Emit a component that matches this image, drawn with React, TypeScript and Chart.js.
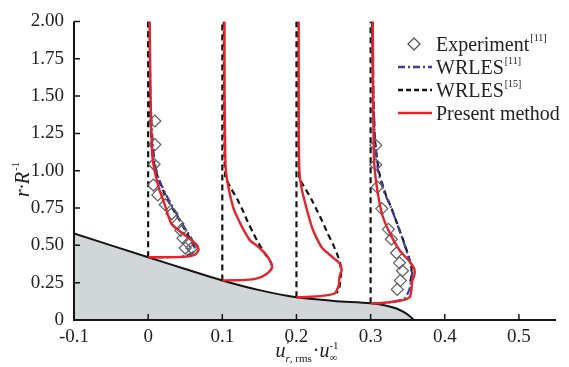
import React, { useEffect, useRef } from "react";
import { Chart, registerables } from "chart.js";

Chart.register(...registerables);

// Axis ticks
const xTicks = [-0.1, 0, 0.1, 0.2, 0.3, 0.4, 0.5];
const yTicks = [0, 0.25, 0.5, 0.75, 1.0, 1.25, 1.5, 1.75, 2.0];

// Measuring stations (x offset of each profile) and wall radius at each station
const stations = [0, 0.1, 0.2, 0.3];
const wallR = [0.42, 0.265, 0.152, 0.112];

// Body contour (x, r/R)
const bodyX = [-0.1, 0, 0.05, 0.1, 0.15, 0.2, 0.25, 0.3, 0.32, 0.335, 0.345, 0.353, 0.358];
const bodyY = [0.58, 0.42, 0.342, 0.265, 0.2, 0.152, 0.128, 0.112, 0.097, 0.077, 0.052, 0.025, 0];

// Present method profiles: [u'/U offset from station, r/R]
const present0 = [[0, 0.42], [0.02, 0.42], [0.04, 0.421], [0.055, 0.427], [0.064, 0.44], [0.068, 0.47], [0.066, 0.5], [0.057, 0.54], [0.045, 0.585], [0.032, 0.64], [0.027, 0.7], [0.022, 0.78], [0.016, 0.86], [0.01, 0.97], [0.006, 1.08], [0.004, 1.3], [0.003, 1.6], [0.002, 2.0]];
const present1 = [[0, 0.265], [0.02, 0.266], [0.04, 0.272], [0.051, 0.285], [0.06, 0.31], [0.066, 0.34], [0.067, 0.365], [0.063, 0.41], [0.056, 0.455], [0.046, 0.5], [0.037, 0.535], [0.028, 0.61], [0.021, 0.68], [0.015, 0.75], [0.009, 0.87], [0.005, 0.99], [0.004, 1.1], [0.003, 1.5], [0.003, 2.0]];
const present2 = [[0, 0.152], [0.02, 0.156], [0.04, 0.165], [0.052, 0.18], [0.057, 0.23], [0.058, 0.29], [0.061, 0.335], [0.058, 0.38], [0.05, 0.415], [0.035, 0.48], [0.027, 0.55], [0.021, 0.62], [0.014, 0.74], [0.007, 0.88], [0.004, 0.99], [0.003, 1.3], [0.003, 2.0]];
const present3 = [[0, 0.112], [0.015, 0.114], [0.03, 0.122], [0.045, 0.135], [0.053, 0.155], [0.055, 0.2], [0.056, 0.26], [0.059, 0.3], [0.059, 0.34], [0.052, 0.395], [0.04, 0.46], [0.027, 0.57], [0.016, 0.7], [0.009, 0.87], [0.005, 1.04], [0.004, 1.21], [0.003, 1.6], [0.003, 2.0]];

// WRLES [11] profiles (stations 0 and 0.3)
const wrles11_0 = [[0.002, 2.0], [0.003, 1.5], [0.006, 1.2], [0.009, 1.05], [0.014, 0.95], [0.024, 0.84], [0.034, 0.75], [0.044, 0.66], [0.053, 0.59], [0.06, 0.53], [0.063, 0.49], [0.06, 0.45], [0.045, 0.425], [0, 0.42]];
const wrles11_3 = [[0.003, 2.0], [0.004, 1.5], [0.006, 1.2], [0.01, 1.0], [0.018, 0.86], [0.027, 0.76], [0.036, 0.64], [0.044, 0.53], [0.05, 0.44], [0.055, 0.36], [0.056, 0.32], [0.054, 0.25], [0.052, 0.2], [0.045, 0.14], [0.02, 0.115], [0, 0.112]];

// WRLES [15] profiles
const wrles15_0 = [[0, 2.0], [0.002, 1.5], [0.005, 1.15], [0.01, 1.0], [0.02, 0.87], [0.03, 0.77], [0.041, 0.68], [0.05, 0.6], [0.058, 0.53], [0.062, 0.49]];
const wrles15_1 = [[0.002, 2.0], [0.003, 1.2], [0.004, 0.96], [0.012, 0.88], [0.02, 0.81], [0.028, 0.73], [0.034, 0.66], [0.041, 0.59], [0.047, 0.53], [0.053, 0.48], [0.058, 0.44], [0.064, 0.4], [0.067, 0.365]];
const wrles15_2 = [[0.002, 2.0], [0.003, 1.2], [0.004, 0.95], [0.012, 0.88], [0.02, 0.81], [0.028, 0.73], [0.035, 0.66], [0.042, 0.58], [0.049, 0.51], [0.055, 0.44], [0.059, 0.38], [0.06, 0.31], [0.059, 0.25], [0.057, 0.2], [0.054, 0.18]];
const wrles15_3 = [[0.002, 2.0], [0.004, 1.4], [0.006, 1.2], [0.011, 1.0], [0.019, 0.86], [0.028, 0.75], [0.037, 0.63], [0.045, 0.52], [0.051, 0.43], [0.055, 0.35], [0.055, 0.3], [0.053, 0.24]];

// Experiment [11] (stations 0 and 0.3)
const exp0 = [[0.009, 1.333], [0.009, 1.175], [0.008, 1.043], [0.007, 0.904], [0.013, 0.838], [0.023, 0.772], [0.032, 0.713], [0.04, 0.647], [0.044, 0.6], [0.047, 0.548], [0.054, 0.515], [0.059, 0.482], [0.05, 0.482]];
const exp3 = [[0.007, 1.17], [0.007, 1.04], [0.009, 0.89], [0.015, 0.746], [0.024, 0.607], [0.028, 0.541], [0.035, 0.449], [0.039, 0.383], [0.043, 0.33], [0.04, 0.264], [0.036, 0.205]];

const SERIF = '"Liberation Serif", "DejaVu Serif", serif';
const RED = "#e4232b";
const BLUE = "#3b3c9e";
const BLACK = "#151515";

const toPts = (st: number, arr: number[][]) => arr.map(([dx, y]) => ({ x: st + dx, y }));

const decoPlugin = {
  id: "deco",
  afterDraw(chart: any) {
    const { ctx, chartArea: ca, scales } = chart;
    const xs = scales.x;
    const ys = scales.y;
    ctx.save();
    // axes
    ctx.strokeStyle = BLACK;
    ctx.lineWidth = 2;
    ctx.setLineDash([]);
    ctx.beginPath();
    ctx.moveTo(ca.left, ca.top);
    ctx.lineTo(ca.left, ca.bottom);
    ctx.lineTo(ca.right, ca.bottom);
    ctx.stroke();
    // inward ticks
    ctx.lineWidth = 1.5;
    ctx.beginPath();
    xTicks.forEach((v) => {
      const px = xs.getPixelForValue(v);
      ctx.moveTo(px, ca.bottom);
      ctx.lineTo(px, ca.bottom - 6);
    });
    yTicks.forEach((v) => {
      const py = ys.getPixelForValue(v);
      ctx.moveTo(ca.left, py);
      ctx.lineTo(ca.left + 6, py);
    });
    ctx.stroke();

    ctx.fillStyle = "#222";
    ctx.textBaseline = "alphabetic";
    ctx.textAlign = "left";

    // legend
    const lx0 = 398, lx1 = 432, tx = 436;
    const rows = [44, 67, 90, 113];
    const drawLabel = (main: string, sup: string, y: number) => {
      ctx.font = `20px ${SERIF}`;
      ctx.fillStyle = "#222";
      ctx.fillText(main, tx, y + 7);
      if (sup) {
        const w = ctx.measureText(main).width;
        ctx.font = `10px ${SERIF}`;
        ctx.fillText(sup, tx + w + 1, y - 3);
      }
    };
    // diamond
    ctx.strokeStyle = "#555";
    ctx.lineWidth = 1.3;
    ctx.setLineDash([]);
    ctx.beginPath();
    ctx.moveTo(414, rows[0] - 6);
    ctx.lineTo(420, rows[0]);
    ctx.lineTo(414, rows[0] + 6);
    ctx.lineTo(408, rows[0]);
    ctx.closePath();
    ctx.stroke();
    drawLabel("Experiment", "[11]", rows[0]);
    // WRLES 11
    ctx.strokeStyle = BLUE;
    ctx.lineWidth = 2.5;
    ctx.setLineDash([7, 3, 2, 3]);
    ctx.beginPath();
    ctx.moveTo(lx0, rows[1]);
    ctx.lineTo(lx1, rows[1]);
    ctx.stroke();
    drawLabel("WRLES", "[11]", rows[1]);
    // WRLES 15
    ctx.strokeStyle = BLACK;
    ctx.setLineDash([5, 3]);
    ctx.beginPath();
    ctx.moveTo(lx0, rows[2]);
    ctx.lineTo(lx1, rows[2]);
    ctx.stroke();
    drawLabel("WRLES", "[15]", rows[2]);
    // Present
    ctx.strokeStyle = RED;
    ctx.setLineDash([]);
    ctx.beginPath();
    ctx.moveTo(lx0, rows[3]);
    ctx.lineTo(lx1, rows[3]);
    ctx.stroke();
    drawLabel("Present method", "", rows[3]);

    // x title: u'_{r, rms} · u_inf^{-1}
    ctx.fillStyle = "#222";
    const fItal = `italic 20px ${SERIF}`;
    const fSmallItal = `italic 11px ${SERIF}`;
    const fSmall = `11px ${SERIF}`;
    ctx.font = fItal;
    const wu = ctx.measureText("u").width;
    ctx.font = fSmallItal;
    const wr = ctx.measureText("r").width;
    ctx.font = fSmall;
    const wrms = ctx.measureText(", rms").width;
    const wsub1 = wr + wrms;
    ctx.font = `20px ${SERIF}`;
    const wdot = ctx.measureText("·").width;
    ctx.font = fSmall;
    const winf = ctx.measureText("∞").width;
    const wm1 = ctx.measureText("-1").width;
    const total = wu + wsub1 + 1 + wdot + wu + Math.max(winf, wm1);
    let cx = 307 - total / 2;
    const base = 357;
    ctx.font = fItal;
    ctx.fillText("u", cx, base);
    cx += wu;
    ctx.font = `italic 16px ${SERIF}`;
    ctx.fillText("'", cx, base - 6);
    ctx.font = fSmallItal;
    ctx.fillText("r", cx, base + 5);
    ctx.font = fSmall;
    ctx.fillText(", rms", cx + wr, base + 5);
    cx += wsub1 + 1;
    ctx.font = `20px ${SERIF}`;
    ctx.fillText("·", cx, base);
    cx += wdot;
    ctx.font = fItal;
    ctx.fillText("u", cx, base);
    cx += wu;
    ctx.font = fSmall;
    ctx.fillText("∞", cx, base + 4);
    ctx.fillText("-1", cx, base - 8);

    // y title: r·R^{-1}
    ctx.save();
    ctx.translate(22, 180);
    ctx.rotate(-Math.PI / 2);
    ctx.font = fItal;
    const wA = ctx.measureText("r·R").width;
    ctx.font = fSmall;
    const wB = ctx.measureText("-1").width;
    const start = -(wA + wB) / 2;
    ctx.font = fItal;
    ctx.fillText("r·R", start, 7);
    ctx.font = fSmall;
    ctx.fillText("-1", start + wA + 1, -3);
    ctx.restore();

    ctx.restore();
  },
};

export default function App() {
  const ref = useRef<HTMLCanvasElement>(null);
  useEffect(() => {
    document.body.style.margin = "0";
    const canvas = ref.current;
    if (!canvas) return;

    const presents = [present0, present1, present2, present3];
    const w15 = [wrles15_0, wrles15_1, wrles15_2, wrles15_3];
    const lineDs = (data: any[], color: string, dash: number[], order: number, width = 2.3) => ({
      type: "scatter",
      data,
      showLine: true,
      borderColor: color,
      borderWidth: width,
      borderDash: dash,
      pointRadius: 0,
      fill: false,
      tension: 0.18,
      order,
    });

    const datasets: any[] = [];
    // body
    datasets.push({
      type: "scatter",
      data: bodyX.map((x, i) => ({ x, y: bodyY[i] })),
      showLine: true,
      borderColor: BLACK,
      borderWidth: 2,
      backgroundColor: "#d1d6d9",
      fill: "origin",
      pointRadius: 0,
      tension: 0.3,
      order: 10,
    });
    // station vertical dashed lines
    stations.forEach((s, i) => {
      datasets.push({ ...lineDs([{ x: s, y: wallR[i] }, { x: s, y: 2.0 }], BLACK, [6, 4], 8, 2.2), tension: 0 });
    });
    // WRLES15
    stations.forEach((s, i) => datasets.push(lineDs(toPts(s, w15[i]), BLACK, [6, 4], 7, 2.2)));
    // WRLES11
    datasets.push(lineDs(toPts(stations[0], wrles11_0), BLUE, [8, 3, 2, 3], 5, 2.2));
    datasets.push(lineDs(toPts(stations[3], wrles11_3), BLUE, [8, 3, 2, 3], 5, 2.2));
    // Present
    stations.forEach((s, i) => datasets.push(lineDs(toPts(s, presents[i]), RED, [], 3, 2.4)));
    // Experiment
    [exp0, exp3].forEach((arr, k) => {
      datasets.push({
        type: "scatter",
        data: toPts(k === 0 ? stations[0] : stations[3], arr),
        showLine: false,
        pointStyle: "rectRot",
        pointRadius: 6,
        pointBorderWidth: 1.2,
        pointBorderColor: "#5a5f66",
        pointBackgroundColor: "rgba(255,255,255,0)",
        order: 4,
      });
    });

    const chart = new Chart(canvas, {
      type: "scatter",
      data: { datasets },
      options: {
        animation: false,
        responsive: false,
        maintainAspectRatio: false,
        layout: { padding: { top: 17, right: 13, left: 0, bottom: 0 } },
        plugins: { legend: { display: false }, tooltip: { enabled: false } },
        scales: {
          x: {
            type: "linear",
            min: -0.1,
            max: 0.55,
            grid: { display: false, drawTicks: false },
            border: { display: false },
            afterBuildTicks: (s: any) => {
              s.ticks = xTicks.map((v) => ({ value: v }));
            },
            afterFit: (s: any) => {
              s.height = 47;
            },
            ticks: {
              padding: 6,
              color: "#222",
              font: { family: SERIF, size: 19 },
              maxRotation: 0,
              autoSkip: false,
              callback: (v: any) => (Math.abs(v) < 1e-9 ? "0" : Number(v).toFixed(1)),
            },
          },
          y: {
            type: "linear",
            min: 0,
            max: 2,
            grid: { display: false, drawTicks: false },
            border: { display: false },
            afterBuildTicks: (s: any) => {
              s.ticks = yTicks.map((v) => ({ value: v }));
            },
            afterFit: (s: any) => {
              s.width = 74;
            },
            ticks: {
              padding: 10,
              color: "#222",
              font: { family: SERIF, size: 19 },
              autoSkip: false,
              callback: (v: any) => (Math.abs(v) < 1e-9 ? "0" : Number(v).toFixed(2)),
            },
          },
        },
      } as any,
      plugins: [decoPlugin],
    } as any);
    return () => chart.destroy();
  }, []);

  return (
    <div style={{ width: 569, height: 367, background: "#fff" }}>
      <canvas ref={ref} width={569} height={367} style={{ display: "block" }} />
    </div>
  );
}
